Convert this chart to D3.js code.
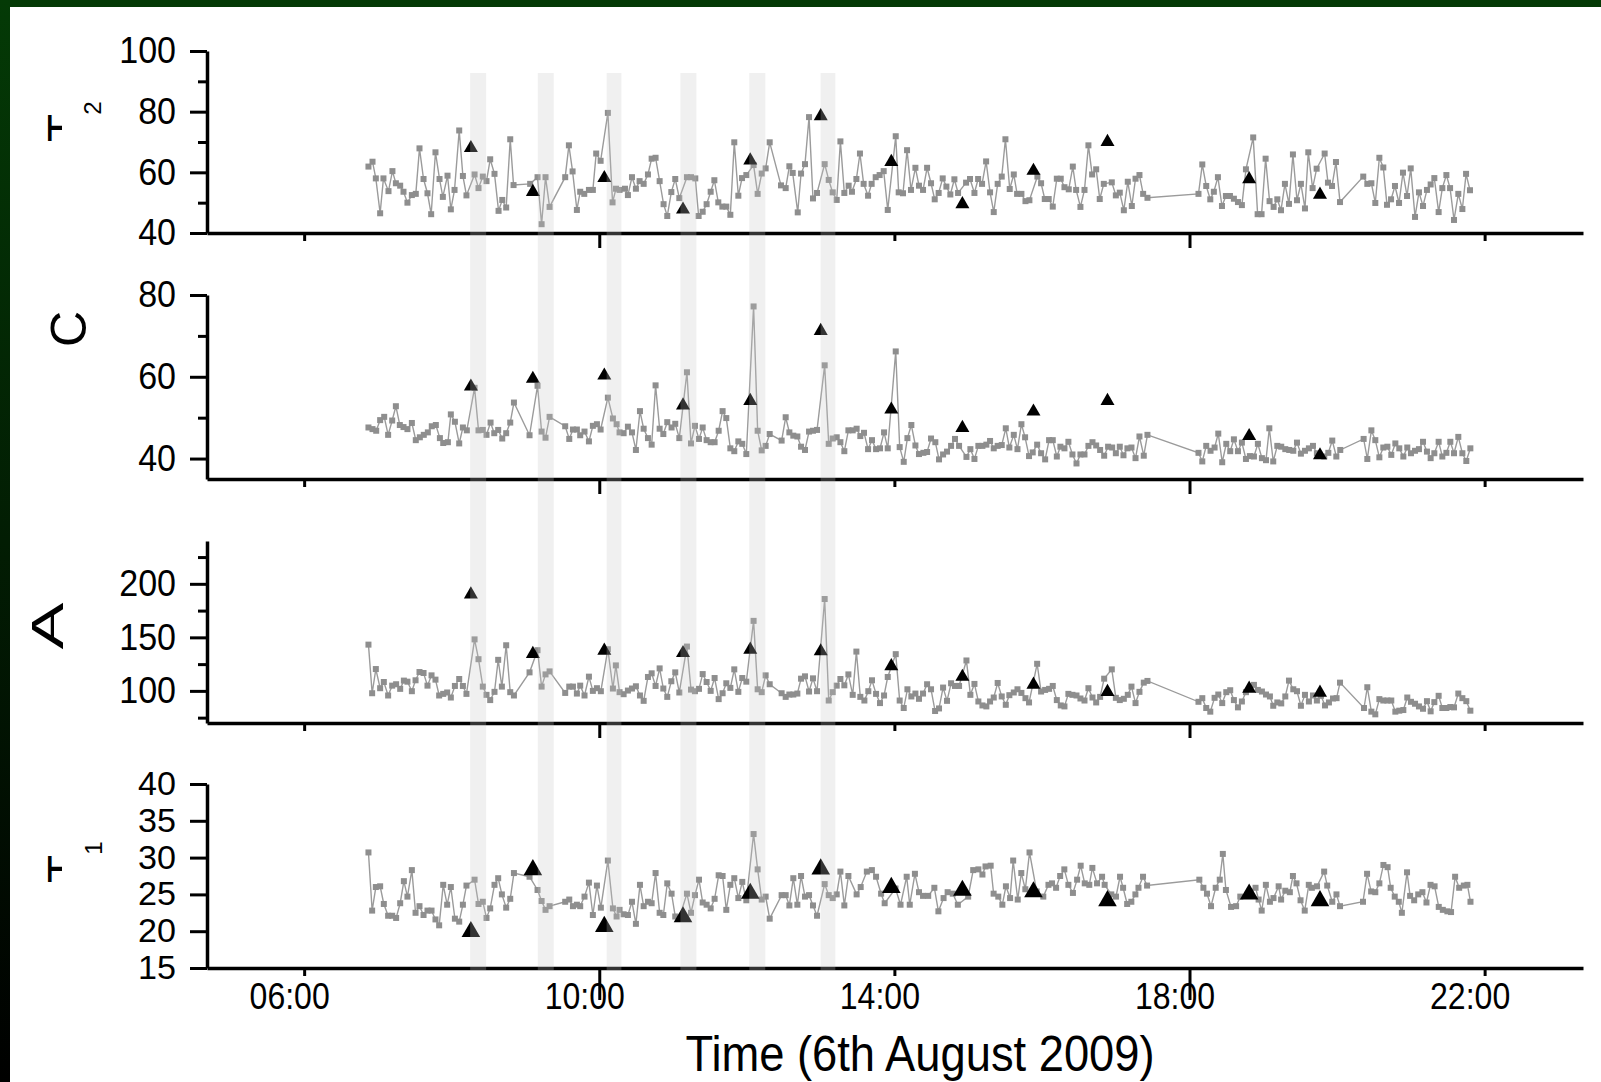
<!DOCTYPE html>
<html lang="en">
<head>
<meta charset="UTF-8">
<script src="https://d3js.org/d3.v7.min.js"></script>
<title>Time series, 6th August 2009</title>
<style>
  body { margin: 0; background: #fff; }
  text { font-family: "Liberation Sans", Arial, sans-serif; fill: #000; }
</style>
</head>
<body>
<div id="chart"></div>
<script>
// times are minutes after midnight
var t2Data = [[412.3,61.9],[415.6,63.5],[418.3,58.0],[421.8,46.5],[424.5,58.0],[428.6,53.8],[431.8,60.4],[434.6,56.4],[438.1,55.6],[440.8,53.6],[444.0,50.0],[447.6,52.5],[450.8,52.9],[453.8,67.9],[457.1,57.8],[460.3,53.1],[463.3,46.2],[466.8,66.6],[470.1,57.8],[472.8,51.9],[476.6,58.9],[479.3,47.8],[482.3,54.2],[486.1,73.8],[489.1,58.8],[492.0,52.4],[498.6,59.3],[501.8,54.8],[505.3,58.6],[508.3,57.1],[511.3,64.3],[514.8,59.5],[518.1,47.3],[521.1,50.9],[524.3,48.4],[527.6,70.9],[530.3,55.8],[543.8,56.2],[549.8,58.4],[553.1,42.9],[556.3,58.4],[559.6,48.6],[572.3,58.4],[575.3,68.9],[578.3,60.3],[581.8,47.6],[584.5,53.6],[587.8,52.9],[591.6,54.2],[594.8,54.2],[597.5,66.2],[601.1,63.8],[607.0,79.6],[610.8,50.1],[613.6,54.6],[616.5,54.2],[620.9,54.6],[623.3,52.5],[626.6,58.4],[629.8,54.6],[632.8,57.1],[636.1,56.2],[639.6,59.3],[642.6,64.5],[645.8,64.8],[649.1,57.1],[652.3,49.5],[655.3,45.6],[658.6,53.5],[661.8,57.8],[665.1,51.5],[671.3,58.4],[674.6,58.4],[678.1,58.0],[680.8,45.6],[684.1,47.0],[687.3,49.5],[690.6,53.6],[693.6,57.4],[696.8,50.1],[700.1,48.7],[703.3,48.7],[706.6,46.0],[709.8,69.9],[713.1,52.3],[716.1,58.1],[719.6,59.1],[725.5,62.4],[728.8,52.9],[732.1,59.6],[735.3,61.3],[738.6,69.9],[747.8,55.7],[751.6,54.8],[754.6,62.0],[757.3,59.8],[761.4,46.8],[764.1,59.6],[767.3,62.7],[770.6,78.2],[773.8,51.4],[777.1,53.2],[783.3,62.7],[786.6,57.5],[789.8,53.4],[793.1,50.9],[796.1,70.2],[799.3,53.2],
  [802.8,55.6],[805.5,53.6],[809.1,57.8],[812.0,66.2],[815.0,56.2],[818.6,52.3],[821.5,56.2],[824.8,58.4],[828.0,59.1],[831.3,60.4],[834.6,47.6],[841.1,71.9],[843.5,53.4],[847.0,53.1],[850.3,67.3],[853.5,54.2],[857.1,61.5],[860.0,55.6],[863.3,54.2],[866.6,61.5],[869.8,56.4],[872.8,51.1],[876.0,53.2],[879.3,58.0],[882.3,55.3],[885.5,52.7],[888.8,57.7],[891.8,53.2],[898.3,56.6],[901.5,57.8],[905.1,53.2],[908.1,57.8],[911.3,56.2],[914.6,63.6],[917.8,53.4],[920.8,46.9],[924.0,56.2],[927.3,58.6],[930.3,70.9],[933.8,54.5],[937.1,59.3],[939.8,52.9],[943.3,52.9],[946.6,50.5],[949.8,50.8],[956.3,58.6],[959.3,56.4],[962.3,51.2],[965.5,51.2],[968.8,48.7],[972.1,57.9],[975.3,57.9],[978.3,55.1],[981.8,54.4],[985.1,61.9],[987.8,54.2],[991.3,48.6],[994.6,54.2],[997.8,68.9],[1000.8,59.3],[1004.1,61.0],[1007.0,51.2],[1010.3,56.2],[1016.8,56.7],[1020.1,52.4],[1023.3,53.3],[1026.6,47.5],[1029.8,56.9],[1033.1,48.9],[1036.1,57.9],[1039.3,59.1],[1042.3,52.9],[1045.8,51.6],
  [1087.3,52.9],[1090.4,62.6],[1093.6,55.5],[1096.9,51.1],[1099.8,53.6],[1103.1,58.4],[1106.4,48.9],[1109.6,52.2],[1112.9,52.2],[1116.1,51.3],[1119.4,50.2],[1122.6,49.2],[1125.9,61.0],[1131.8,71.5],[1135.4,46.2],[1138.6,46.2],[1141.9,64.5],[1145.1,50.5],[1148.4,48.6],[1151.4,51.1],[1154.4,47.5],[1157.6,56.2],[1160.9,49.6],[1164.1,65.9],[1167.4,50.8],[1170.6,56.2],[1173.9,48.1],[1176.6,66.6],[1180.1,54.8],[1183.4,61.2],[1189.9,66.2],[1192.6,56.6],[1195.9,55.5],[1199.1,63.4],[1202.4,50.2],[1221.3,58.6],[1224.6,56.2],[1227.9,56.4],[1231.1,49.9],[1234.4,64.8],[1237.6,61.6],[1240.6,49.3],[1243.9,51.1],[1247.1,55.5],[1250.4,49.9],[1253.6,59.9],[1256.9,52.2],[1259.9,61.3],[1263.4,45.3],[1266.6,53.4],[1269.9,48.9],[1273.1,54.2],[1276.1,56.0],[1279.1,58.1],[1282.6,46.9],[1285.6,54.8],[1288.9,59.1],[1291.9,54.8],[1295.1,44.3],[1298.6,52.9],[1301.9,47.9],[1304.9,59.5],[1308.1,54.1]];

var cData = [[412.3,47.6],[415.6,47.2],[418.6,46.8],[421.8,49.4],[425.1,50.2],[428.3,45.8],[431.6,49.3],[434.6,52.8],[437.8,48.2],[440.8,47.7],[444.0,47.2],[447.6,48.7],[450.8,44.5],[454.1,45.2],[457.3,45.8],[460.6,46.4],[463.8,47.9],[467.1,48.2],[470.4,45.0],[473.1,43.8],[476.9,44.0],[479.3,50.8],[482.6,49.0],[486.1,43.7],[489.1,47.6],[492.3,46.9],[498.6,57.3],[501.8,46.9],[505.3,47.0],[508.3,45.8],[511.6,48.8],[514.6,46.2],[517.8,47.0],[521.1,44.9],[524.3,46.2],[527.6,48.8],[530.6,53.7],[543.3,45.7],[549.8,57.8],[553.1,46.6],[556.3,45.1],[559.6,50.2],[572.3,47.9],[575.6,44.8],[578.6,47.1],[581.8,47.1],[584.5,45.7],[588.0,46.6],[591.6,44.2],[594.8,48.0],[598.1,48.4],[601.1,47.1],[607.0,54.9],[611.1,49.8],[614.1,48.4],[616.5,46.4],[619.8,46.2],[623.3,47.8],[626.6,46.4],[629.8,42.1],[633.1,51.6],[636.1,47.3],[639.6,45.0],[642.6,43.4],[645.8,57.9],[649.1,47.3],[652.1,46.0],[655.3,48.9],[658.8,47.6],[661.8,48.5],[665.1,45.0],[671.3,61.1],[674.6,43.7],[677.8,48.0],[681.1,44.8],[684.1,47.6],[687.3,44.5],[690.6,44.0],[693.8,44.0],[697.1,46.8],[700.3,51.6],[703.3,49.9],[706.6,42.5],[709.8,41.8],[713.1,44.2],[716.3,43.6],[719.6,41.1],[725.5,77.2],[728.8,46.8],[732.1,42.0],[735.3,43.1],[738.6,46.0],[748.3,44.4],[751.6,50.1],[754.6,46.4],[757.8,45.6],[761.1,45.4],[764.1,42.9],[767.3,42.1],[770.6,46.6],[773.8,46.8],[777.1,47.0],[783.3,62.8],[786.6,43.6],[789.8,44.9],[793.1,45.2],[796.1,44.0],[799.3,41.8],[802.6,46.9],
  [806.1,46.9],[809.3,47.3],[812.3,45.5],[815.3,46.3],[818.6,42.3],[821.8,44.5],[825.1,42.3],[828.3,42.5],[831.6,46.4],[834.6,42.5],[841.1,66.2],[844.3,42.8],[847.6,39.2],[850.6,45.0],[853.8,48.2],[857.1,43.2],[860.0,41.1],[863.6,41.4],[866.6,41.6],[869.8,44.9],[873.3,44.0],[876.3,39.8],[879.6,41.0],[882.8,41.7],[886.1,43.1],[889.3,44.8],[892.6,43.1],[898.6,40.4],[901.8,42.3],[905.1,39.9],[908.3,43.1],[911.6,43.1],[914.8,43.4],[917.8,44.3],[920.8,42.5],[924.0,43.1],[927.3,43.3],[930.6,47.4],[933.5,42.7],[937.1,45.8],[940.1,42.3],[943.3,48.4],[946.3,45.2],[949.5,40.6],[952.5,41.5],[956.1,43.4],[959.3,41.3],[962.6,39.8],[965.8,44.5],[968.8,44.5],[972.1,40.5],[975.0,42.9],[978.3,42.5],[981.5,44.1],[984.8,41.0],[988.1,38.8],[991.3,41.0],[994.6,41.0],[997.8,43.1],[1001.1,44.0],[1004.1,43.2],[1007.3,42.1],[1010.6,40.7],[1013.8,42.9],[1017.1,42.7],[1020.1,41.3],[1023.3,42.9],[1026.3,40.8],[1029.5,42.5],[1032.8,42.7],[1036.1,40.1],[1039.3,45.4],[1042.8,40.7],[1045.8,45.8],
  [1087.3,41.4],[1090.4,39.3],[1093.6,43.1],[1097.1,41.9],[1100.4,42.7],[1103.4,46.1],[1106.6,39.1],[1109.9,43.6],[1113.1,41.8],[1116.1,44.7],[1119.4,41.8],[1122.6,43.9],[1125.9,39.9],[1129.1,40.6],[1132.4,40.5],[1135.6,43.6],[1138.9,40.1],[1142.2,39.6],[1144.9,47.4],[1148.1,39.3],[1151.4,43.1],[1154.6,42.9],[1157.9,42.3],[1161.1,42.1],[1164.4,41.9],[1167.4,43.9],[1170.6,41.2],[1173.9,41.9],[1177.1,42.5],[1180.4,43.1],[1183.6,41.3],[1189.6,40.5],[1192.9,41.4],[1196.1,44.4],[1199.4,40.5],[1202.6,42.1],[1221.6,44.8],[1224.6,39.9],[1227.9,46.9],[1231.1,44.5],[1234.4,40.3],[1237.6,42.7],[1240.9,42.9],[1244.1,40.9],[1247.4,43.7],[1250.6,42.5],[1253.9,40.5],[1257.1,42.7],[1260.1,41.3],[1263.4,41.9],[1266.6,42.3],[1269.9,44.1],[1273.1,41.7],[1276.1,40.1],[1279.1,41.3],[1282.6,44.1],[1285.6,40.5],[1288.9,41.4],[1292.1,44.1],[1295.1,41.3],[1298.6,45.3],[1301.9,41.3],[1305.1,39.4],[1308.4,42.5]];

var aData = [[412.3,143.2],[415.3,97.8],[418.3,120.4],[421.8,102.5],[424.8,108.3],[428.3,95.7],[431.6,104.9],[434.8,106.2],[438.1,101.9],[441.1,109.6],[444.0,108.6],[447.6,99.7],[450.6,109.9],[453.8,117.6],[457.1,116.7],[460.3,104.9],[463.6,114.5],[466.8,110.5],[469.8,95.7],[473.1,97.2],[476.3,98.5],[479.3,93.8],[482.6,104.6],[486.1,111.1],[489.1,104.6],[492.0,97.2],[498.6,148.1],[501.8,129.6],[505.3,104.0],[508.3,96.3],[511.3,91.4],[514.8,99.1],[517.8,129.0],[520.8,104.0],[524.3,142.6],[527.6,98.8],[530.6,95.7],[543.3,117.3],[549.8,138.0],[553.1,104.0],[556.3,115.4],[559.6,118.2],[572.3,98.1],[575.6,104.0],[578.6,104.0],[581.8,97.5],[584.5,104.9],[588.0,95.7],[591.6,113.3],[594.8,100.0],[598.1,102.5],[601.3,99.7],[607.0,138.9],[611.1,102.2],[613.5,123.8],[616.5,98.8],[619.8,96.9],[623.3,100.3],[626.6,102.2],[629.8,104.3],[633.1,95.7],[636.1,90.7],[639.6,113.0],[642.6,116.4],[645.8,104.6],[649.1,121.0],[652.1,102.2],[655.3,94.4],[658.6,109.0],[661.8,117.3],[665.1,98.5],[671.3,141.4],[674.6,101.2],[677.8,99.7],[681.1,101.9],[684.1,115.7],[687.3,108.3],[690.6,100.0],[693.8,112.0],[697.1,92.3],[700.3,97.8],[703.3,107.1],[706.6,102.8],[709.8,120.1],[713.1,99.1],[716.3,112.0],[719.6,108.6],[725.5,165.4],[728.8,101.5],[732.1,98.8],[735.3,114.5],[738.6,106.2],[748.3,97.8],[751.6,94.4],[754.6,96.6],[757.8,96.6],[761.1,97.5],[764.1,111.4],[767.3,113.6],[770.6,99.4],[773.8,111.7],[777.1,99.7],[783.3,185.8],[786.6,91.0],[789.8,98.8],[793.1,104.9],[796.1,111.1],[799.3,105.2],[802.6,115.4],
  [806.1,96.3],[809.1,136.7],[812.3,94.4],[815.6,91.0],[818.8,99.7],[821.8,109.9],[825.1,97.2],[828.3,88.6],[831.6,95.7],[834.6,113.0],[841.1,134.3],[844.3,91.0],[847.6,84.0],[850.6,101.5],[853.8,94.8],[857.1,97.5],[860.0,92.6],[863.3,97.5],[866.6,106.2],[869.8,101.5],[873.1,81.2],[876.3,83.6],[879.6,103.1],[882.8,90.7],[886.1,107.1],[889.3,104.6],[892.6,104.6],[898.6,128.4],[901.8,96.3],[905.1,106.5],[908.3,90.1],[911.6,86.4],[914.8,85.5],[917.8,90.1],[920.8,93.8],[924.0,107.4],[927.3,94.8],[930.6,87.0],[933.5,96.0],[937.1,98.5],[940.1,101.5],[943.3,98.1],[946.6,93.2],[949.5,89.2],[956.1,125.3],[959.3,99.4],[962.6,100.9],[965.8,101.9],[968.8,104.6],[972.1,91.4],[975.3,86.4],[978.3,85.5],[981.5,97.2],[984.8,96.3],[988.1,95.7],[991.3,92.9],[994.6,91.0],[997.8,102.5],[1001.1,93.8],[1004.1,89.2],[1007.3,94.4],[1010.6,111.4],[1016.8,120.1],[1020.1,93.5],[1023.3,91.4],[1026.6,92.6],[1029.8,96.3],[1032.8,104.0],[1036.1,88.6],[1039.3,99.1],[1042.8,107.7],[1045.8,109.3],
  [1087.3,89.8],[1090.4,93.2],[1093.6,84.0],[1096.9,80.6],[1100.4,93.5],[1103.4,96.6],[1106.6,88.6],[1109.9,98.8],[1113.1,100.6],[1116.1,91.4],[1119.4,84.6],[1122.6,90.1],[1125.9,98.8],[1132.4,105.6],[1135.6,100.9],[1138.9,99.4],[1142.2,96.6],[1145.4,94.8],[1148.1,86.1],[1151.4,89.2],[1154.6,88.3],[1157.9,94.8],[1160.9,109.6],[1164.4,101.5],[1167.4,99.7],[1170.6,86.1],[1173.9,96.3],[1177.1,90.1],[1180.4,95.7],[1183.6,91.0],[1186.9,95.4],[1190.2,86.4],[1193.4,89.2],[1196.7,92.9],[1199.6,93.2],[1202.4,107.7],[1221.9,84.0],[1224.6,103.4],[1227.9,80.6],[1231.1,78.1],[1234.4,92.3],[1237.6,91.0],[1240.9,91.0],[1244.1,91.0],[1247.4,80.6],[1250.6,81.5],[1253.9,82.1],[1257.1,93.8],[1260.1,89.8],[1263.4,88.0],[1266.6,85.5],[1269.9,83.3],[1273.1,90.4],[1276.1,80.9],[1279.1,89.5],[1282.6,95.4],[1285.6,84.0],[1288.9,84.0],[1292.1,84.9],[1295.1,84.6],[1298.6,97.5],[1301.9,93.2],[1305.1,90.4],[1308.4,81.5]];

var t1Data = [[412.3,30.7],[415.3,22.8],[418.3,26.0],[421.8,26.1],[424.8,23.7],[428.3,22.1],[431.6,22.1],[434.8,21.8],[438.1,23.8],[441.1,26.8],[444.0,24.7],[447.6,28.3],[450.6,22.5],[453.8,23.4],[457.1,22.2],[460.3,22.8],[463.6,22.8],[466.8,21.6],[469.8,20.8],[473.1,26.3],[476.3,23.6],[479.3,26.0],[482.6,21.7],[486.1,21.3],[489.1,23.6],[492.0,26.2],[498.6,27.0],[501.8,23.7],[505.3,24.0],[508.3,21.8],[511.3,23.1],[514.8,26.3],[517.8,27.2],[520.8,25.0],[524.3,23.2],[527.6,24.4],[530.6,27.9],[543.3,27.4],[549.8,25.6],[553.1,24.1],[556.3,22.9],[559.6,23.4],[572.3,24.0],[575.6,24.3],[578.6,23.4],[581.8,23.6],[584.5,23.4],[588.0,24.7],[591.6,26.6],[594.8,22.2],[598.1,26.2],[601.3,23.2],[607.0,29.6],[611.1,23.1],[614.1,22.0],[616.5,22.9],[619.8,22.3],[623.3,22.2],[626.6,24.0],[629.8,21.0],[633.1,26.3],[636.1,23.4],[639.6,24.0],[642.6,23.8],[645.8,27.9],[649.1,22.5],[652.1,22.2],[655.3,26.5],[658.8,25.1],[661.8,22.0],[665.1,21.8],[671.3,25.1],[674.6,22.5],[677.8,24.9],[681.1,27.0],[684.1,23.9],[687.3,23.6],[690.6,23.1],[693.8,24.4],[697.1,27.6],[700.3,27.5],[703.3,22.9],[706.6,26.3],[709.8,27.2],[713.1,24.5],[716.3,26.7],[719.6,24.2],[725.5,33.2],[728.8,28.4],[732.1,24.3],[735.3,24.7],[738.6,21.7],[748.3,24.9],[751.6,24.9],[754.6,23.5],[757.8,27.2],[761.1,23.6],[764.1,27.5],[767.3,24.7],[770.6,24.9],[773.8,23.5],[777.1,22.1],[783.3,26.4],[786.6,24.9],[789.8,24.5],[793.1,25.0],[796.1,28.1],[799.3,23.5],[802.6,27.5],
  [809.3,25.0],[812.6,26.0],[817.6,28.1],[821.7,28.3],[825.1,27.4],[829.2,25.1],[832.1,23.8],[840.9,25.8],[845.0,23.6],[850.0,27.4],[852.5,23.6],[856.7,27.8],[860.0,25.3],[863.3,24.8],[867.5,24.8],[872.5,25.9],[875.8,22.7],[880.0,24.5],[883.3,25.3],[887.5,25.1],[891.6,23.6],[900.0,24.7],[904.1,28.3],[908.3,28.4],[911.6,27.7],[914.1,28.8],[918.3,28.9],[920.7,25.1],[924.5,24.7],[927.8,23.6],[930.7,26.1],[934.1,24.5],[936.6,29.6],[940.3,24.3],[943.2,27.9],[946.5,25.7],[949.9,30.7],[955.7,25.4],[961.1,24.7],[965.3,26.3],[968.2,26.5],[971.5,25.9],[974.8,27.5],[978.2,28.4],[981.5,26.3],[985.2,25.2],[988.6,27.0],[991.5,28.9],[994.8,26.5],[998.5,26.3],[1001.0,28.6],[1004.8,26.5],[1008.9,27.4],[1011.0,26.3],[1016.4,25.0],[1020.2,24.7],[1023.5,27.4],[1026.0,25.9],[1029.3,23.7],[1032.7,24.0],[1036.0,25.0],[1038.5,25.9],[1042.2,27.4],[1045.5,26.2],
  [1088.0,27.0],[1091.3,25.9],[1094.2,25.1],[1097.5,23.4],[1101.3,25.9],[1104.6,27.0],[1107.1,30.5],[1109.6,25.6],[1113.8,23.3],[1117.9,23.4],[1121.3,24.7],[1129.6,25.4],[1133.7,25.9],[1136.2,24.3],[1138.7,22.8],[1142.1,26.3],[1145.4,24.0],[1148.3,24.5],[1152.5,26.1],[1154.5,24.3],[1157.9,25.5],[1161.6,25.3],[1164.1,27.5],[1167.0,26.5],[1170.3,24.2],[1173.7,22.8],[1177.0,26.3],[1179.5,25.9],[1183.7,26.1],[1189.5,28.1],[1192.0,26.2],[1196.1,24.0],[1199.5,25.0],[1202.4,23.4],[1221.1,24.0],[1224.4,27.8],[1227.7,25.4],[1231.1,25.3],[1234.4,26.5],[1237.7,29.0],[1241.1,28.7],[1243.6,25.9],[1246.9,24.7],[1250.2,24.0],[1252.7,22.5],[1256.9,28.0],[1259.4,24.8],[1262.7,24.2],[1266.0,25.0],[1269.4,25.3],[1272.7,23.9],[1276.0,26.3],[1279.3,26.1],[1282.7,23.3],[1286.0,22.9],[1289.7,22.7],[1292.7,22.6],[1296.0,27.4],[1299.3,25.9],[1303.1,26.2],[1306.0,26.3],[1308.5,24.0]];

// triangle events (same times in every panel)
var markTimes = [495.6, 546.0, 604.1, 668.1, 722.8, 780.1, 837.5, 895.3, 953.1, 1013.3, 1128.5, 1186.1];
var t2Marks = [68.7, 54.2, 58.8, 48.4, 64.6, 79.2, 64.1, 50.2, 61.2, 70.7, 58.4, 53.3];
var cMarks  = [58.1, 60.0, 60.8, 53.5, 54.6, 71.7, 52.5, 48.0, 52.0, 54.6, 46.0, 41.3];
var aMarks  = [192.0, 136.4, 139.5, 137.3, 140.4, 138.9, 125.0, 115.1, 107.7, 100.9, 104.0, 100.3];
var t1Marks = [20.3, 28.7, 21.0, 22.3, 25.5, 28.8, 26.3, 25.9, 25.7, 24.5, 25.4, 24.5];

// shaded intervals [start, end] in minutes
var bands = [[495, 508], [550, 563], [606, 618], [666, 679], [722, 735], [780, 792]];

var timeTicks = ["06:00", "10:00", "14:00", "18:00", "22:00"];
var longTicks = ["10:00", "18:00"];
var xTitle = "Time (6th August 2009)";

var W = 1601, H = 1082;
var base = new Date(2009, 7, 6, 0, 0);
function toDate(m) { return new Date(base.getTime() + m * 60000); }
function fromLabel(s) { var p = s.split(":"); return toDate(+p[0] * 60 + +p[1]); }

// narrow the glyphs a little, the original lettering is condensed
function squeeze(sel, k) {
  sel.each(function() {
    var n = this.getComputedTextLength();
    d3.select(this).attr("textLength", n * k).attr("lengthAdjust", "spacingAndGlyphs");
  });
}

var svg = d3.select("#chart").append("svg")
    .attr("width", W)
    .attr("height", H);

var defs = svg.append("defs");
// dark green frame on top and left
var grad = defs.append("linearGradient")
    .attr("id", "frame").attr("x1", 0).attr("y1", 0).attr("x2", 0).attr("y2", 1);
grad.append("stop").attr("offset", "0%").attr("stop-color", "#043a06");
grad.append("stop").attr("offset", "100%").attr("stop-color", "#000000");
// the big T of the axis titles is cut short in the original
defs.append("clipPath").attr("id", "tcut")
  .append("rect").attr("x", 0).attr("y", 0).attr("width", 62).attr("height", H);

svg.append("rect").attr("width", W).attr("height", H).attr("fill", "url(#frame)");
svg.append("rect").attr("x", 10).attr("y", 7).attr("width", W - 10).attr("height", H - 7).attr("fill", "#fff");

var x = d3.scaleTime()
    .domain([toDate(281), toDate(1400)])
    .range([207, 1583]);

var panels = [
  {data: t2Data, marks: t2Marks, domain: [40, 100], range: [233, 51], ticks: [40, 60, 80, 100], minor: [50, 70, 90], tri: 85, longTick: 15, fs: 37, sq: 0.92},
  {data: cData, marks: cMarks, domain: [35, 80], range: [479, 295], ticks: [40, 60, 80], minor: [50, 70], tri: 85, longTick: 15, fs: 37, sq: 0.92},
  {data: aData, marks: aMarks, domain: [70, 240], range: [723, 541], ticks: [100, 150, 200], minor: [75, 125, 175, 225], tri: 85, longTick: 15, fs: 37, sq: 0.92},
  {data: t1Data, marks: t1Marks, domain: [15, 40], range: [968, 784], ticks: [15, 20, 25, 30, 35, 40], minor: [], tri: 150, longTick: 32, fs: 32.5, sq: 1.05}
];

var tri = {
  draw: function(ctx, size) {
    var s = Math.sqrt(size * 4 / Math.sqrt(3)), h = s * Math.sqrt(3) / 2;
    ctx.moveTo(0, -h / 2);
    ctx.lineTo(s / 2, h / 2);
    ctx.lineTo(-s / 2, h / 2);
    ctx.closePath();
  }
};

panels.forEach(function(p, i) {
  var y = d3.scaleLinear().domain(p.domain).range(p.range);
  var g = svg.append("g");
  var last = i === panels.length - 1;

  // x axis
  var xa = g.append("g")
      .attr("transform", "translate(0," + p.range[0] + ")")
      .call(d3.axisBottom(x)
        .tickValues(timeTicks.map(fromLabel))
        .tickSize(8)
        .tickSizeOuter(0)
        .tickPadding(7)
        .tickFormat(last ? d3.timeFormat("%H:%M") : ""));
  xa.select(".domain").attr("stroke-width", 3.5);
  xa.selectAll(".tick line").attr("stroke-width", 3)
      .attr("y2", function(d) { return longTicks.indexOf(d3.timeFormat("%H:%M")(d)) >= 0 ? p.longTick : 8; });
  var xl = xa.selectAll(".tick text").attr("font-size", 36).attr("dx", -15).attr("fill", "#000")
      .style("font-family", "'Liberation Sans', Arial, sans-serif");
  squeeze(xl, 0.89);

  // y axis
  var ya = g.append("g")
      .attr("transform", "translate(207,0)")
      .call(d3.axisLeft(y).tickValues(p.ticks).tickSize(17).tickSizeOuter(0).tickPadding(14));
  ya.select(".domain").attr("stroke-width", 3.5);
  ya.selectAll(".tick line").attr("stroke-width", 3);
  var yl = ya.selectAll(".tick text").attr("font-size", p.fs).attr("fill", "#000")
      .style("font-family", "'Liberation Sans', Arial, sans-serif");
  squeeze(yl, p.sq);
  if (p.minor.length) {
    var ym = g.append("g")
        .attr("transform", "translate(207,0)")
        .call(d3.axisLeft(y).tickValues(p.minor).tickSize(9).tickFormat(""));
    ym.select(".domain").remove();
    ym.selectAll(".tick line").attr("stroke-width", 3);
  }

  // series line + square markers
  var line = d3.line()
      .x(function(d) { return x(toDate(d[0])); })
      .y(function(d) { return y(d[1]); });
  g.append("path")
      .datum(p.data)
      .attr("fill", "none")
      .attr("stroke", "#9b9b9b")
      .attr("stroke-width", 1.4)
      .attr("d", line);
  g.selectAll("rect.pt")
      .data(p.data)
      .enter().append("rect")
      .attr("class", "pt")
      .attr("x", function(d) { return x(toDate(d[0])) - 3; })
      .attr("y", function(d) { return y(d[1]) - 3; })
      .attr("width", 6)
      .attr("height", 6)
      .attr("fill", "#8e8e8e");

  // triangles
  g.selectAll("path.tri")
      .data(p.marks)
      .enter().append("path")
      .attr("class", "tri")
      .attr("d", d3.symbol().type(tri).size(p.tri))
      .attr("transform", function(d, j) { return "translate(" + x(toDate(markTimes[j])) + "," + y(d) + ")"; })
      .attr("fill", "#000");
});

// rotated y titles
function yTitle(parent, txt, bx, cy, size, len) {
  var t = parent.append("text")
      .attr("transform", "translate(" + bx + "," + cy + ") rotate(-90)")
      .attr("text-anchor", "middle")
      .attr("font-size", size)
      .text(txt);
  if (len) t.attr("x", -len / 2).attr("text-anchor", null)
      .attr("textLength", len).attr("lengthAdjust", "spacingAndGlyphs");
  return t;
}
var cut = svg.append("g").attr("clip-path", "url(#tcut)");
yTitle(cut, "T", 80, 128, 46);
yTitle(svg, "2", 101, 108, 24);
yTitle(svg, "C", 86, 329, 50);
yTitle(svg, "A", 63, 626, 45, 47);
yTitle(cut, "T", 80, 869, 46);
yTitle(svg, "1", 102, 848, 24);

// shaded intervals on top of everything, semi transparent
svg.append("g").selectAll("rect")
    .data(bands)
    .enter().append("rect")
    .attr("x", function(d) { return x(toDate(d[0])); })
    .attr("width", function(d) { return x(toDate(d[1])) - x(toDate(d[0])); })
    .attr("y", 73)
    .attr("height", 970 - 73)
    .attr("fill", "rgb(197,197,197)")
    .attr("fill-opacity", 0.26);

var tt = svg.append("text")
    .attr("x", 920)
    .attr("y", 1071)
    .attr("text-anchor", "middle")
    .attr("font-size", 50)
    .text(xTitle);
squeeze(tt, 0.906);
</script>
</body>
</html>
